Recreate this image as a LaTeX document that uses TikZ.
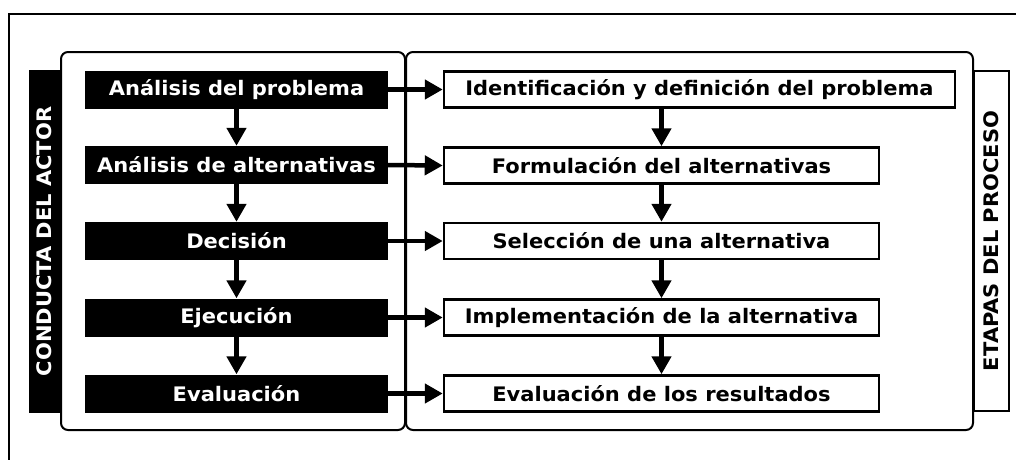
\documentclass[tikz,border=0pt]{standalone}
\usepackage{fontspec}
\setmainfont[FakeStretch=1.05]{DejaVu Sans}
\usetikzlibrary{arrows.meta}
\begin{document}
\begin{tikzpicture}[x=1pt,y=-1pt,
  txt/.style={font=\fontsize{20}{23}\selectfont\bfseries},
  blk/.style={txt,fill=black,text=white,minimum width=303pt,minimum height=38pt,inner sep=0pt},
  wht/.style={txt,draw=black,line width=2.5pt,fill=white,minimum height=36pt,inner sep=0pt},
  arr/.style={line width=4.5pt,-{Triangle[length=18pt,width=19pt]}},
  panel/.style={draw=black,line width=2pt,rounded corners=7pt}
]
\useasboundingbox (0,0) rectangle (1016,459);
\fill[white] (0,0) rectangle (1016,459);
\draw[line width=2pt] (1017,14) -- (9,14) -- (9,460);
\draw[panel] (61,52) rectangle (405,430);
\draw[panel] (406,52) rectangle (973,430);
\node[txt,fill=black,text=white,rotate=90,minimum width=343pt,minimum height=32pt,inner sep=0pt] (lab1) at (44.5,241.5) {CONDUCTA DEL ACTOR};
\node[txt,draw=black,line width=2.5pt,fill=white,rotate=90,minimum width=340pt,minimum height=35pt,inner sep=0pt] (lab2) at (991.5,241) {ETAPAS DEL PROCESO};
\node[blk] (b1) at (236.5,89.5) {Análisis del problema};
\node[blk] (b2) at (236.5,165) {Análisis de alternativas};
\node[blk] (b3) at (236.5,241) {Decisión};
\node[blk] (b4) at (236.5,317.5) {Ejecución};
\node[blk] (b5) at (236.5,393.5) {Evaluación};
\node[wht,minimum width=511pt] (w1) at (699.5,89.5) {Identificación y definición del problema};
\node[wht,minimum width=435pt] (w2) at (661.5,165.5) {Formulación del alternativas};
\node[wht,minimum width=435pt] (w3) at (661.5,241) {Selección de una alternativa};
\node[wht,minimum width=435pt] (w4) at (661.5,317.5) {Implementación de la alternativa};
\node[wht,minimum width=435pt] (w5) at (661.5,393.5) {Evaluación de los resultados};
\foreach \a/\b in {b1/b2,b2/b3,b3/b4,b4/b5}{
  \draw[arr] (\a.south) -- (\b.north);
}
\draw[arr] (w2.north |- w1.south) -- (w2.north);
\foreach \a/\b in {w2/w3,w3/w4,w4/w5}{
  \draw[arr] (\a.south) -- (\b.north);
}
\foreach \i in {1,...,5}{
  \draw[arr] (b\i.east) -- (w\i.west);
}
\end{tikzpicture}
\end{document}
